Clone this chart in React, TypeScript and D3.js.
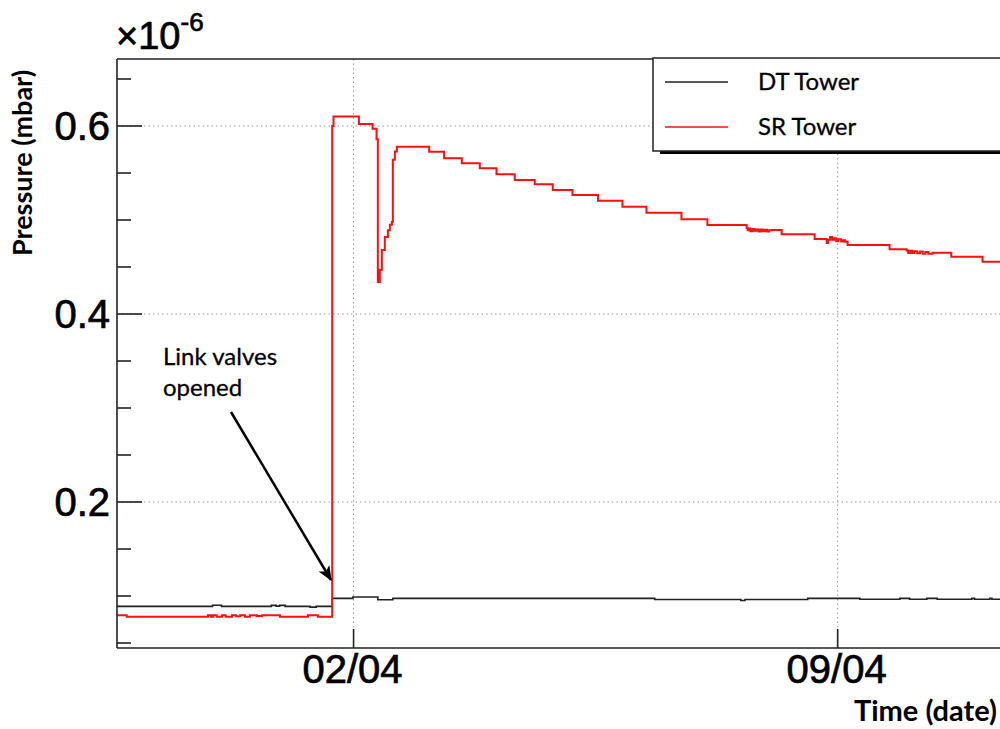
import * as d3 from "d3";
import React from "react";

// time in days of April (2 = 02/04 00:00), pressure in units of 1e-6 mbar
const srDays = [
  -1.421, -1.28, -0.106, -0.06, -0.03, 0.02, 0.097, 0.15, 0.241, 0.3, 0.36, 0.429, 0.5, 0.6, 0.675,
  0.935, 1.34, 1.484, 1.691, 1.71, 2.077, 2.275, 2.332, 2.351, 2.38, 2.409, 2.452, 2.496, 2.525,
  2.554, 2.568, 2.597, 2.626, 3.093, 3.309, 3.565, 3.825, 4.067, 4.331, 4.62, 4.88, 5.165, 5.535,
  5.888, 6.235, 6.741, 7.116, 7.684, 7.7, 7.72, 7.74, 7.77, 7.8, 7.83, 7.86, 7.89, 7.92, 7.95, 7.98,
  8.01, 8.046, 8.19, 8.667, 8.841, 8.86, 8.89, 8.92, 8.95, 8.98, 9.01, 9.05, 9.08, 9.11, 9.144,
  9.751, 9.997, 10.02, 10.05, 10.08, 10.11, 10.15, 10.19, 10.23, 10.27, 10.31, 10.373, 10.643,
  11.095, 11.42,
];
const srValues = [
  0.0795, 0.078, 0.0795, 0.078, 0.0795, 0.078, 0.0795, 0.078, 0.0795, 0.0785, 0.0795, 0.078, 0.0795,
  0.0788, 0.0795, 0.078, 0.0795, 0.078, 0.6, 0.61, 0.602, 0.597, 0.586, 0.434, 0.447, 0.468, 0.482,
  0.489, 0.495, 0.498, 0.564, 0.573, 0.578, 0.5727, 0.5656, 0.5603, 0.555, 0.5486, 0.5426, 0.538,
  0.532, 0.5266, 0.5206, 0.5142, 0.5078, 0.5007, 0.4947, 0.4915, 0.489, 0.491, 0.488, 0.4905,
  0.4885, 0.49, 0.4878, 0.4898, 0.488, 0.4895, 0.4878, 0.489, 0.4894, 0.4848, 0.4798, 0.4755,
  0.479, 0.482, 0.479, 0.4805, 0.4775, 0.4795, 0.477, 0.4785, 0.4768, 0.4734, 0.4688, 0.4675,
  0.465, 0.4672, 0.4648, 0.4668, 0.4645, 0.4665, 0.4642, 0.466, 0.464, 0.4652, 0.461, 0.4556,
  0.4556,
];

const dtDays = [
  -1.421, -0.04, 0.09, 0.81, 0.88, 0.93, 1.01, 1.37, 1.46, 1.691, 1.99, 2.351, 2.568, 6.355, 7.6,
  7.66, 8.567, 9.32, 9.9, 10.04, 10.29, 10.44, 10.94, 10.98, 11.2, 11.23, 11.42,
];
const dtValues = [
  0.089, 0.0902, 0.089, 0.09, 0.0892, 0.09, 0.089, 0.0882, 0.089, 0.0975, 0.0989, 0.096, 0.0975,
  0.0962, 0.0952, 0.0962, 0.0975, 0.0965, 0.0975, 0.0965, 0.0975, 0.0965, 0.0975, 0.0965, 0.0975,
  0.0965, 0.0965,
];

const dateTicks = [2, 9];
const yMajor = [0.2, 0.4, 0.6];
const yMinor = [0.05, 0.1, 0.15, 0.25, 0.3, 0.35, 0.45, 0.5, 0.55, 0.65];
const seriesNames = ["DT Tower", "SR Tower"];
const seriesColors = ["#222", "#ff1010"];

const toDate = (d: number) => new Date(Date.UTC(2012, 2, 31) + d * 86400000);

const left = 117;
const right = 1005;
const top = 59;
const bottom = 648;

export default function App() {
  const x = d3.scaleUtc().domain([toDate(-1.421), toDate(11.42)]).range([left, right]);
  const y = d3.scaleLinear().domain([0, 0.6]).range([690, 126]);
  const fmt = d3.utcFormat("%d/%m");

  const line = d3
    .line<[number, number]>()
    .x((p) => x(toDate(p[0])))
    .y((p) => y(p[1]))
    .curve(d3.curveStepAfter);

  const sr = srDays.map((d, i) => [d, srValues[i]] as [number, number]);
  const dt = dtDays.map((d, i) => [d, dtValues[i]] as [number, number]);

  const calibri = "Lato, 'Open Sans', sans-serif";
  const helv = "'Liberation Sans', Arial, sans-serif";

  return (
    <svg
      width={1000}
      height={729}
      style={{ position: "absolute", left: 0, top: 0, background: "#fff" }}
    >
      <defs>
        <clipPath id="plot">
          <rect x={left} y={top} width={right - left} height={bottom - top} />
        </clipPath>
        <marker id="arr" viewBox="0 0 12 10" refX="11" refY="5" markerWidth="6" markerHeight="6" orient="auto">
          <path d="M0,0 L12,5 L0,10 L3,5 z" fill="#000" />
        </marker>
      </defs>
      <rect width={1000} height={729} fill="#fff" />

      {/* grid */}
      <g stroke="#999" strokeDasharray="1.5,3" strokeWidth={1}>
        {yMajor.map((v) => (
          <line key={v} x1={left} x2={right} y1={y(v)} y2={y(v)} />
        ))}
        {dateTicks.map((d) => (
          <line key={d} x1={x(toDate(d))} x2={x(toDate(d))} y1={top} y2={bottom} />
        ))}
      </g>

      {/* data */}
      <g clipPath="url(#plot)" fill="none">
        <path d={line(dt) || ""} stroke={seriesColors[0]} strokeWidth={1.6} />
        <path d={line(sr) || ""} stroke={seriesColors[1]} strokeWidth={2} />
      </g>

      {/* frame */}
      <g stroke="#222" strokeWidth={1.6} fill="none">
        <line x1={left} x2={right} y1={top} y2={top} />
        <line x1={left} x2={right} y1={bottom} y2={bottom} />
        <line x1={left} x2={left} y1={top} y2={bottom} />
        {yMajor.map((v) => (
          <line key={v} x1={left} x2={left + 25} y1={y(v)} y2={y(v)} />
        ))}
        {yMinor.map((v) => (
          <line key={v} x1={left} x2={left + 14} y1={y(v)} y2={y(v)} />
        ))}
        {dateTicks.map((d) => (
          <line key={d} x1={x(toDate(d))} x2={x(toDate(d))} y1={bottom} y2={bottom - 19} />
        ))}
      </g>

      {/* tick labels */}
      <g fontFamily={helv} fontSize={40} fill="#000" stroke="#000" strokeWidth={0.7}>
        {yMajor.map((v) => (
          <text key={v} x={110} y={y(v) + 14} textAnchor="end">
            {v.toFixed(1)}
          </text>
        ))}
        {dateTicks.map((d) => (
          <text key={d} x={x(toDate(d)) - 1} y={683} textAnchor="middle">
            {fmt(toDate(d))}
          </text>
        ))}
        <text x={116} y={49} fontSize={38}>
          ×10
          <tspan fontSize={26} dy={-18}>
            -6
          </tspan>
        </text>
      </g>

      {/* axis titles */}
      <text
        transform="translate(32,163) rotate(-90)"
        textAnchor="middle"
        fontFamily={calibri}
        fontWeight="bold"
        fontSize={27}
      >
        Pressure (mbar)
      </text>
      <text x={997} y={721} textAnchor="end" fontFamily={calibri} fontWeight="bold" fontSize={29}>
        Time (date)
      </text>

      {/* legend */}
      <rect x={660} y={150} width={360} height={4} fill="#000" />
      <rect x={653} y={58} width={360} height={93} fill="#fff" stroke="#222" strokeWidth={1.5} />
      {seriesNames.map((n, i) => (
        <g key={n}>
          <line x1={665} x2={728} y1={82 + i * 45} y2={82 + i * 45} stroke={seriesColors[i]} strokeWidth={1.5} />
          <text x={758} y={90 + i * 45} fontFamily={calibri} fontSize={24} stroke="#000" strokeWidth={0.3}>
            {n}
          </text>
        </g>
      ))}

      {/* annotation */}
      <g fontFamily={calibri} fontSize={24} stroke="#000" strokeWidth={0.3}>
        <text x={163} y={365}>Link valves</text>
        <text x={163} y={396}>opened</text>
      </g>
      <line x1={231} y1={412} x2={331} y2={580} stroke="#000" strokeWidth={2.5} markerEnd="url(#arr)" />
    </svg>
  );
}
